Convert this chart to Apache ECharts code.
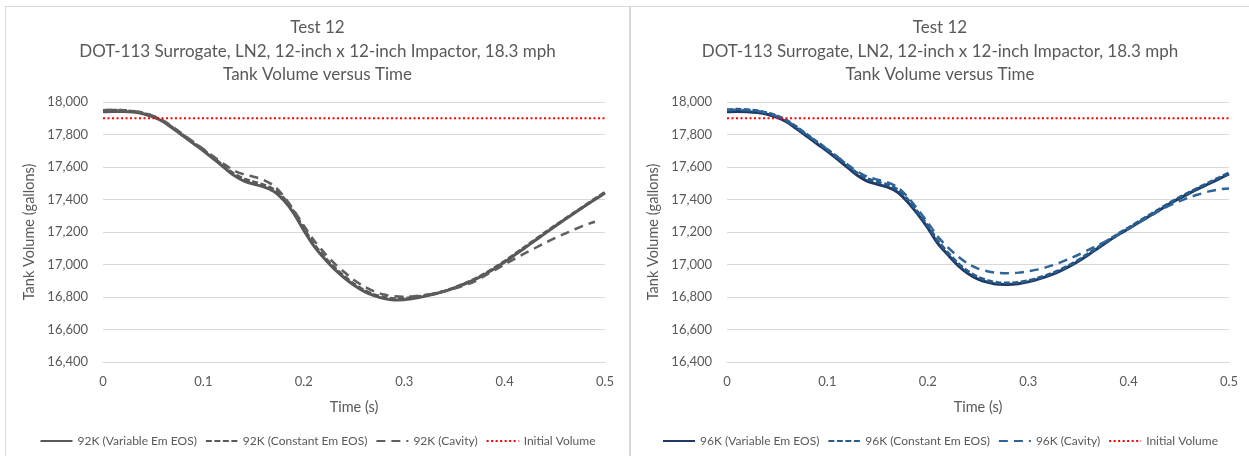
<!DOCTYPE html>
<html>
<head>
<meta charset="utf-8">
<script src="https://cdn.jsdelivr.net/npm/echarts@6/dist/echarts.min.js"></script>
<style>
  html, body { margin: 0; padding: 0; background: #ffffff; }
  .panel { position: absolute; top: 6px; height: 452px; border: 1px solid #d9d9d9; box-sizing: border-box; background: #fff; }
  #left { left: 5px; width: 625px; }
  #right { left: 630px; width: 620px; }
</style>
</head>
<body>
<div id="left" class="panel"></div>
<div id="right" class="panel"></div>
<script>
// Sample times (s)
const times = [0,0.01,0.02,0.03,0.04,0.05,0.06,0.07,0.08,0.09,0.10,0.11,0.12,0.13,0.14,0.15,0.16,0.17,0.18,0.19,0.20,0.21,0.22,0.23,0.24,0.25,0.26,0.27,0.28,0.29,0.30,0.31,0.32,0.33,0.34,0.35,0.36,0.37,0.38,0.39,0.40,0.41,0.42,0.43,0.44,0.45,0.46,0.47,0.48,0.49,0.50];

// 92K tank volume (gallons)
const vol92Variable = [17940,17942,17942,17938,17928,17908,17878,17835,17790,17745,17700,17650,17600,17550,17515,17495,17478,17450,17395,17315,17210,17115,17040,16975,16920,16872,16835,16808,16790,16782,16783,16792,16804,16818,16835,16856,16880,16907,16938,16975,17015,17058,17102,17146,17190,17234,17277,17318,17360,17400,17440];
const vol92Constant = [17948,17950,17948,17942,17932,17912,17882,17840,17795,17750,17705,17657,17607,17560,17528,17508,17490,17462,17408,17325,17222,17125,17050,16985,16930,16880,16842,16815,16798,16790,16792,16798,16808,16820,16836,16857,16882,16910,16942,16980,17020,17063,17107,17151,17195,17238,17280,17321,17363,17404,17445];
const vol92Cavity = [17950,17952,17950,17945,17935,17915,17885,17845,17800,17755,17710,17665,17620,17580,17555,17540,17520,17485,17420,17335,17240,17150,17075,17010,16955,16905,16865,16835,16815,16805,16802,16805,16812,16822,16836,16852,16872,16895,16930,16965,17000,17035,17068,17100,17132,17162,17190,17217,17242,17263,null];

// 96K tank volume (gallons)
const vol96Variable = [17940,17942,17940,17935,17925,17905,17875,17832,17787,17742,17697,17648,17598,17548,17512,17493,17476,17445,17385,17310,17225,17130,17060,16995,16945,16910,16890,16878,16877,16882,16893,16910,16930,16955,16985,17020,17060,17103,17145,17185,17220,17258,17295,17332,17370,17405,17437,17468,17497,17527,17557];
const vol96Constant = [17952,17955,17952,17946,17934,17914,17885,17843,17798,17753,17708,17660,17610,17562,17528,17508,17490,17460,17400,17322,17238,17145,17073,17008,16958,16922,16900,16888,16886,16890,16900,16917,16937,16962,16992,17027,17067,17108,17150,17190,17226,17264,17301,17338,17376,17411,17443,17474,17504,17534,17564];
const vol96Cavity = [17950,17952,17950,17944,17932,17912,17882,17840,17796,17752,17708,17662,17615,17572,17540,17522,17505,17475,17415,17340,17258,17172,17105,17050,17005,16975,16957,16948,16946,16950,16958,16970,16987,17008,17033,17060,17090,17120,17152,17186,17220,17256,17292,17328,17360,17388,17412,17432,17450,17462,17468];

// Initial tank volume (gallons)
const initialVolume = 17900;

const titleLines = ['Test 12', 'DOT-113 Surrogate, LN2, 12-inch x 12-inch Impactor, 18.3 mph', 'Tank Volume versus Time'];
const FONT = 'Lato';
const TEXT = '#595959';

function pairs(vals) {
  return times.map((t, i) => [t, vals[i]]);
}

function buildOption(tag, vals, colors, gridLeft) {
  const names = [tag + ' (Variable Em EOS)', tag + ' (Constant Em EOS)', tag + ' (Cavity)', 'Initial Volume'];
  return {
    animation: false,
    textStyle: { fontFamily: FONT, color: TEXT },
    title: {
      text: titleLines.join('\n'),
      left: 'center',
      top: 4,
      textStyle: { fontFamily: FONT, fontSize: 17, fontWeight: 'normal', color: TEXT, lineHeight: 23.5 }
    },
    legend: {
      bottom: 5,
      left: 'center',
      itemWidth: 32,
      itemHeight: 10,
      itemGap: 8,
      itemStyle: { opacity: 0 },
      textStyle: { fontFamily: FONT, fontSize: 12, color: TEXT },
      data: names
    },
    grid: { left: gridLeft, top: 95, width: 502, height: 260 },
    xAxis: {
      type: 'value',
      min: 0, max: 0.5, interval: 0.1,
      name: 'Time (s)',
      nameLocation: 'middle',
      nameGap: 38,
      nameTextStyle: { fontFamily: FONT, fontSize: 14.5, color: TEXT },
      axisLine: { show: true, lineStyle: { color: '#d9d9d9', width: 1 } },
      axisTick: { show: false },
      splitLine: { show: false },
      axisLabel: { fontFamily: FONT, fontSize: 13, color: TEXT, margin: 13, formatter: v => String(+v.toFixed(1)) }
    },
    yAxis: {
      type: 'value',
      min: 16400, max: 18000, interval: 200,
      name: 'Tank Volume (gallons)',
      nameLocation: 'middle',
      nameGap: 55,
      nameTextStyle: { fontFamily: FONT, fontSize: 14.5, color: TEXT },
      axisLine: { show: false },
      axisTick: { show: false },
      splitLine: { lineStyle: { color: '#d9d9d9', width: 1 } },
      axisLabel: { fontFamily: FONT, fontSize: 13, color: TEXT, margin: 15, formatter: v => v.toLocaleString('en-US') }
    },
    series: [
      {
        name: names[0], type: 'line', smooth: 0.3, symbol: 'none', z: 3,
        data: pairs(vals[0]),
        lineStyle: { color: colors[0], width: 3, type: 'solid' },
        itemStyle: { color: colors[0] }
      },
      {
        name: names[1], type: 'line', smooth: 0.3, symbol: 'none', z: 4,
        data: pairs(vals[1]),
        lineStyle: { color: colors[1], width: 3, type: [6, 2.5] },
        itemStyle: { color: colors[1] }
      },
      {
        name: names[2], type: 'line', smooth: 0.3, symbol: 'none', z: 4,
        data: pairs(vals[2]),
        lineStyle: { color: colors[2], width: 2.5, type: [9, 6] },
        itemStyle: { color: colors[2] }
      },
      {
        name: names[3], type: 'line', symbol: 'none', z: 5,
        data: times.map(t => [t, initialVolume]),
        lineStyle: { color: '#ff0000', width: 2, type: [2, 2.5] },
        itemStyle: { color: '#ff0000' }
      }
    ]
  };
}

const leftChart = echarts.init(document.getElementById('left'), null, { renderer: 'canvas' });
leftChart.setOption(buildOption('92K', [vol92Variable, vol92Constant, vol92Cavity], ['#595959', '#595959', '#5f5f5f'], 97));

const rightChart = echarts.init(document.getElementById('right'), null, { renderer: 'canvas' });
rightChart.setOption(buildOption('96K', [vol96Variable, vol96Constant, vol96Cavity], ['#1f3864', '#265b8c', '#2e6496'], 96));
</script>
</body>
</html>
